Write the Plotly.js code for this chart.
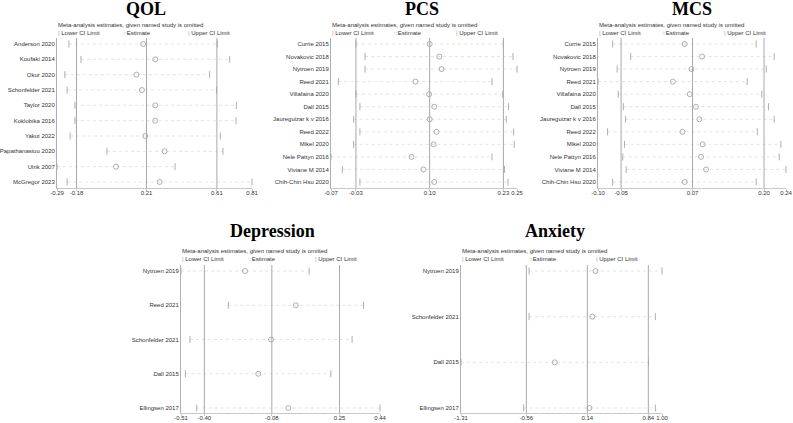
<!DOCTYPE html>
<html><head><meta charset="utf-8">
<script src="https://cdn.plot.ly/plotly-3.0.1.min.js"></script>
<style>html,body{margin:0;padding:0;background:#fff}#chart{width:793px;height:423px}</style>
</head><body><div id="chart"></div>
<script>
// ---------- DATA ----------
const qolStudies = ["Anderson 2020","Koufaki 2014","Okur 2020","Schonfelder 2021","Taylor 2020","Koklobika 2016","Yakut 2022","Papathanasiou 2020","Ulrik 2007","McGregor 2023"];
const qolLower = [-0.225,-0.157,-0.248,-0.235,-0.191,-0.191,-0.218,-0.010,-0.292,-0.235];
const qolEst   = [0.194,0.262,0.156,0.187,0.262,0.262,0.206,0.315,0.041,0.287];
const qolUpper = [0.612,0.682,0.569,0.608,0.720,0.718,0.629,0.644,0.374,0.808];
const qolOverall = [-0.182,0.213,0.610];
const qolTickLabels = ["-0.29","-0.18","0.21","0.61","0.81"];

const pcsStudies = ["Currie 2015","Novakovic 2018","Nytroen 2019","Reed 2021","Villafaina 2020","Dall 2015","Jaureguizar k v 2016","Reed 2022","Mikel 2020","Nele Pattyn 2016","Viviane M 2014","Chih-Chin Hsu 2020"];
const pcsLower = [-0.030,-0.014,-0.014,-0.061,-0.030,-0.023,-0.034,-0.023,-0.034,-0.074,-0.054,-0.023];
const pcsEst   = [0.100,0.117,0.121,0.075,0.099,0.108,0.100,0.112,0.107,0.068,0.089,0.108];
const pcsUpper = [0.230,0.247,0.254,0.210,0.229,0.239,0.235,0.248,0.249,0.210,0.232,0.238];
const pcsOverall = [-0.030,0.100,0.230];
const pcsTickLabels = ["-0.07","-0.03","0.10","0.23","0.25"];

const mcsStudies = ["Currie 2015","Novakovic 2018","Nytroen 2019","Reed 2021","Villafaina 2020","Dall 2015","Jaureguizar k v 2016","Reed 2022","Mikel 2020","Nele Pattyn 2016","Viviane M 2014","Chih-Chin Hsu 2020"];
const mcsLower = [-0.068,-0.036,-0.060,-0.094,-0.058,-0.049,-0.045,-0.077,-0.047,-0.050,-0.044,-0.068];
const mcsEst   = [0.060,0.091,0.072,0.039,0.069,0.080,0.086,0.056,0.092,0.089,0.098,0.060];
const mcsUpper = [0.187,0.219,0.205,0.171,0.197,0.209,0.219,0.189,0.231,0.228,0.240,0.187];
const mcsOverall = [-0.053,0.074,0.201];
const mcsTickLabels = ["-0.10","-0.05","0.07","0.20","0.24"];

const depStudies = ["Nytroen 2019","Reed 2021","Schonfelder 2021","Dall 2015","Ellingsen 2017"];
const depLower = [-0.512,-0.285,-0.469,-0.491,-0.437];
const depEst   = [-0.205,0.039,-0.080,-0.141,0.003];
const depUpper = [0.103,0.364,0.309,0.207,0.443];
const depOverall = [-0.400,-0.076,0.249];
const depTickLabels = ["-0.51","-0.40","-0.08","0.25","0.44"];

const anxStudies = ["Nytroen 2019","Schonfelder 2021","Dall 2015","Ellingsen 2017"];
const anxLower = [-0.529,-0.529,-1.310,-0.591];
const anxEst   = [0.234,0.196,-0.234,0.165];
const anxUpper = [0.997,0.921,0.842,0.921];
const anxOverall = [-0.560,0.140,0.840];
const anxTickLabels = ["-1.31","-0.56","0.14","0.84","1.00"];

const panelTitles = ["QOL","PCS","MCS","Depression","Anxiety"];
const legendTitle = "Meta-analysis estimates, given named study is omitted";
const legendItems = ["Lower CI Limit","Estimate","Upper CI Limit"];

// ---------- LAYOUT (pixel boxes) ----------
const W = 793, H = 423;
const boxes = [
  {left:57,  right:252, top:38,  bottom:188, rowTop:44,  rowBottom:182, titleX:146, titleY:9,   legY:25},
  {left:331, right:517, top:38,  bottom:188, rowTop:44,  rowBottom:182, titleX:422, titleY:9,   legY:25},
  {left:598, right:786, top:38,  bottom:188, rowTop:44,  rowBottom:182, titleX:692, titleY:9,   legY:25},
  {left:181, right:380, top:265, bottom:413, rowTop:271, rowBottom:408, titleX:272, titleY:231, legY:251},
  {left:461, right:662, top:265, bottom:413, rowTop:271, rowBottom:408, titleX:555, titleY:231, legY:251}
];
const panels = [
  {studies:qolStudies, lower:qolLower, est:qolEst, upper:qolUpper, overall:qolOverall, ticks:qolTickLabels},
  {studies:pcsStudies, lower:pcsLower, est:pcsEst, upper:pcsUpper, overall:pcsOverall, ticks:pcsTickLabels},
  {studies:mcsStudies, lower:mcsLower, est:mcsEst, upper:mcsUpper, overall:mcsOverall, ticks:mcsTickLabels},
  {studies:depStudies, lower:depLower, est:depEst, upper:depUpper, overall:depOverall, ticks:depTickLabels},
  {studies:anxStudies, lower:anxLower, est:anxEst, upper:anxUpper, overall:anxOverall, ticks:anxTickLabels}
];

const FONT = "Liberation Sans, Arial, sans-serif";
const TXT = "#333";
const MARK = "#9a9a9a";
const traces = [], shapes = [], annotations = [];
const layout = {
  width: W, height: H, margin:{l:0,r:0,t:0,b:0},
  paper_bgcolor:"#fff", plot_bgcolor:"#fff", showlegend:false,
  font:{family:FONT, size:6, color:TXT}
};

panels.forEach((p, i) => {
  const b = boxes[i];
  const sfx = i === 0 ? "" : String(i+1);
  const xa = "x"+sfx, ya = "y"+sfx;
  const n = p.studies.length;
  const idx = p.studies.map((_, k) => k);
  const xmin = Math.min(...p.lower), xmax = Math.max(...p.upper);
  const spacing = (b.rowBottom - b.rowTop) / (n - 1);
  const padTop = (b.rowTop - b.top) / spacing, padBot = (b.bottom - b.rowBottom) / spacing;

  layout["xaxis"+sfx] = {
    domain:[b.left/W, b.right/W], anchor:ya, range:[xmin, xmax],
    showgrid:false, zeroline:false, showline:true, linecolor:"#c8c8c8", linewidth:1,
    ticks:"outside", ticklen:2, tickcolor:"#c8c8c8", tickangle:0, ticklabelstandoff:-3,
    tickvals:[xmin, p.overall[0], p.overall[1], p.overall[2], xmax], ticktext:p.ticks,
    tickfont:{size:6, color:TXT, family:FONT}, fixedrange:true
  };
  layout["yaxis"+sfx] = {
    domain:[1 - b.bottom/H, 1 - b.top/H], anchor:xa,
    range:[n - 1 + padBot, -padTop],
    showgrid:false, zeroline:false, showline:true, linecolor:"#b0b0b0", linewidth:1,
    ticks:"", tickvals:idx, ticktext:p.studies,
    tickfont:{size:6, color:TXT, family:FONT}, fixedrange:true
  };

  // dotted CI lines
  const lx = [], ly = [];
  idx.forEach(k => { lx.push(p.lower[k], p.upper[k], null); ly.push(k, k, null); });
  traces.push({type:"scatter", mode:"lines", x:lx, y:ly, xaxis:xa, yaxis:ya,
    line:{color:"#d0d0d0", width:0.6, dash:"dot"}, hoverinfo:"skip"});
  // overall vertical lines
  p.overall.forEach(v => shapes.push({type:"line", xref:xa, yref:ya+" domain",
    x0:v, x1:v, y0:0, y1:1, line:{color:"#a8a8a8", width:1}}));
  // CI limit ticks
  [p.lower, p.upper].forEach(arr => traces.push({type:"scatter", mode:"markers", x:arr, y:idx,
    xaxis:xa, yaxis:ya, cliponaxis:false,
    marker:{symbol:"line-ns-open", size:5, color:MARK, line:{color:MARK, width:0.8}}}));
  // estimates
  traces.push({type:"scatter", mode:"markers", x:p.est, y:idx, xaxis:xa, yaxis:ya, cliponaxis:false,
    marker:{symbol:"circle-open", size:5, color:MARK, line:{color:MARK, width:0.8}}});

  // title
  annotations.push({xref:"paper", yref:"paper", x:b.titleX/W, y:1 - b.titleY/H,
    xanchor:"center", yanchor:"middle", showarrow:false,
    text:"<b>"+panelTitles[i]+"</b>", font:{family:"Liberation Serif, Times New Roman, serif", size:18, color:"#000"}});
  // legend
  annotations.push({xref:"paper", yref:"paper", x:b.left/W, y:1 - b.legY/H,
    xanchor:"left", yanchor:"middle", showarrow:false, borderpad:0,
    text:legendTitle, font:{size:6, color:TXT, family:FONT}});
  const w = b.right - b.left;
  const syms = ["|","○","|"];
  legendItems.forEach((t, k) => annotations.push({xref:"paper", yref:"paper",
    x:(b.left + k*w/3)/W, y:1 - (b.legY+8)/H, xanchor:"left", yanchor:"middle", showarrow:false, borderpad:0,
    text:'<span style="color:'+MARK+'">'+syms[k]+'</span>'+(k===1?"":" ")+t, font:{size:6, color:TXT, family:FONT}}));
});

layout.shapes = shapes;
layout.annotations = annotations;
Plotly.newPlot("chart", traces, layout, {staticPlot:true, displayModeBar:false});
</script></body></html>
